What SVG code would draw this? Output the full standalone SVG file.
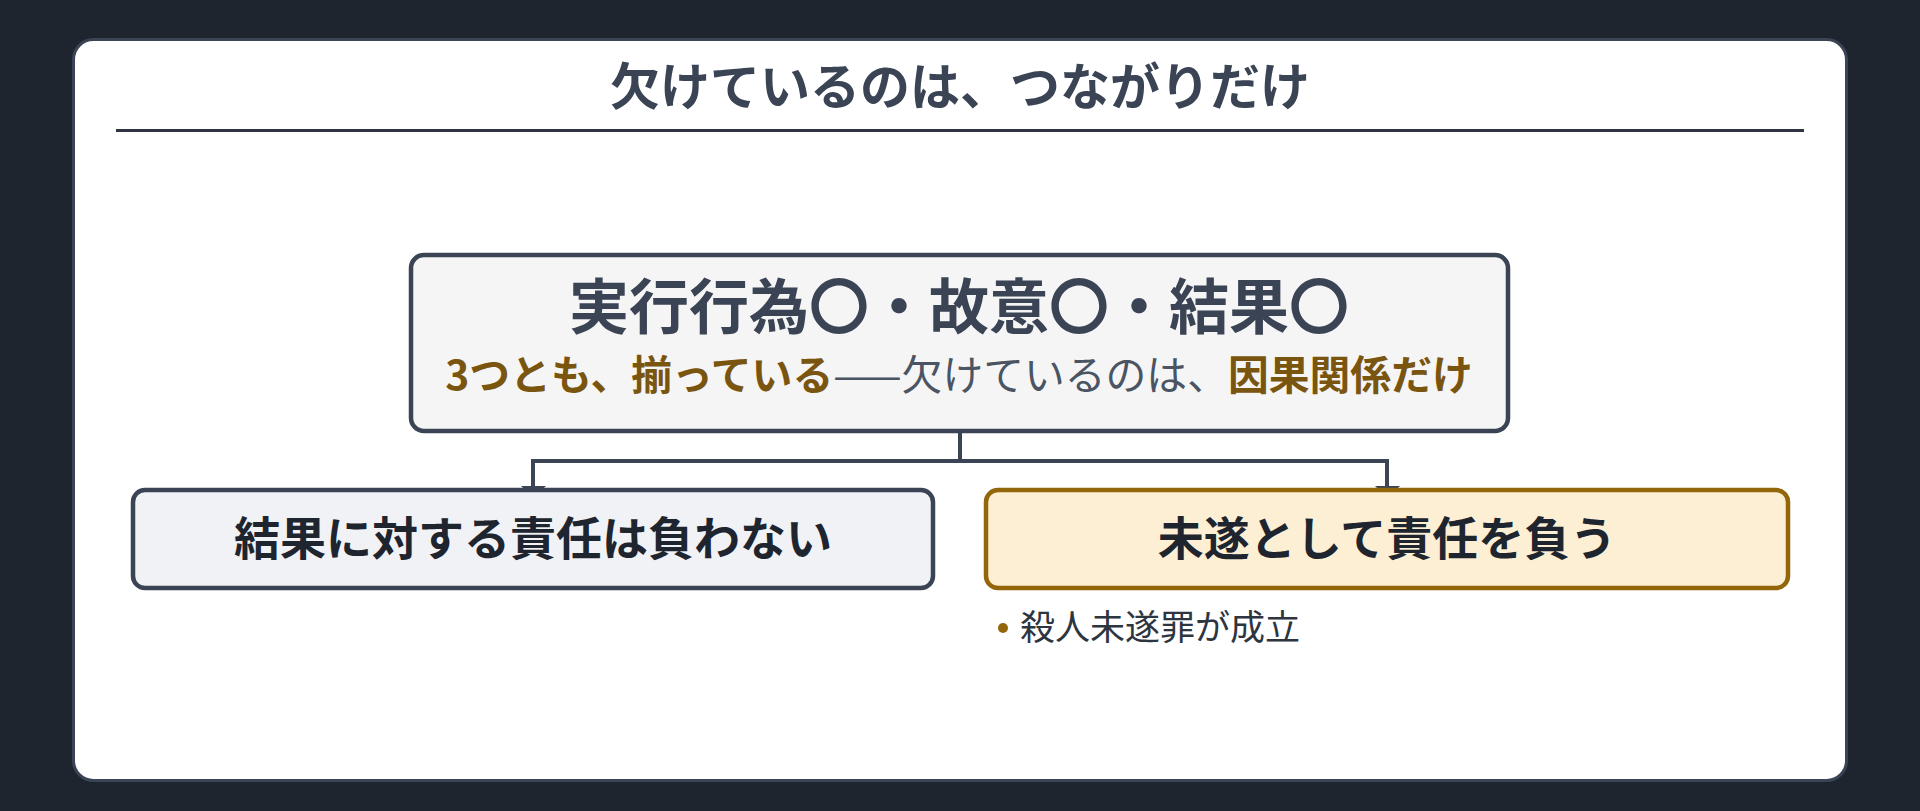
<svg xmlns="http://www.w3.org/2000/svg" width="1920" height="811" viewBox="0 0 1920 811">
<style>
.t{font-family:"Noto Sans CJK JP","Noto Sans",sans-serif}
.box{stroke-width:4.5}
.conn{fill:none;stroke:#3a4454;stroke-width:4}
</style>
<rect x="0" y="0" width="1920" height="811" fill="#1e252f"/>
<g id="card">
<rect x="73.5" y="39.5" width="1773" height="741" rx="20" fill="#ffffff" stroke="#3a4454" stroke-width="3"/>
<text class="t" x="960" y="105" text-anchor="middle" font-size="50" font-weight="700" fill="#3a4454">欠けているのは、つながりだけ</text>
<rect x="116" y="129" width="1688" height="3" fill="#2d3340"/>
</g>
<g id="connectors">
<path class="conn" d="M960,432 V461 M533,461 H1387 M533,459 V488 M1387,459 V488"/>
<polygon points="521,486 546,486 533.5,498" fill="#3a4454"/>
<polygon points="1375,486 1400,486 1387.5,498" fill="#3a4454"/>
</g>
<g id="main">
<rect class="box" x="411" y="255" width="1097" height="176" rx="13" fill="#f5f5f5" stroke="#3a4454"/>
<text class="t" x="959" y="329" text-anchor="middle" font-size="60" font-weight="700" fill="#3a4454">実行行為〇・故意〇・結果〇</text>
<text class="t" x="959" y="390" text-anchor="middle" font-size="40.8" fill="#4a5462"><tspan font-weight="700" fill="#7a5510">3つとも、揃っている</tspan>——欠けているのは、<tspan font-weight="700" fill="#7a5510">因果関係だけ</tspan></text>
</g>
<g id="left">
<rect class="box" x="133" y="490" width="800" height="98" rx="12" fill="#f0f2f5" stroke="#3a4454"/>
<text class="t" x="533" y="555" text-anchor="middle" font-size="46" font-weight="700" fill="#1e252f">結果に対する責任は負わない</text>
</g>
<g id="right">
<rect class="box" x="986" y="490" width="802" height="98" rx="12" fill="#fcefd4" stroke="#94660a"/>
<text class="t" x="1387" y="555" text-anchor="middle" font-size="46" font-weight="700" fill="#1e252f">未遂として責任を負う</text>
</g>
<g id="note">
<circle cx="1003" cy="628" r="5" fill="#94660a"/>
<text class="t" x="1020" y="640" font-size="35" fill="#2d3540">殺人未遂罪が成立</text>
</g>
</svg>
